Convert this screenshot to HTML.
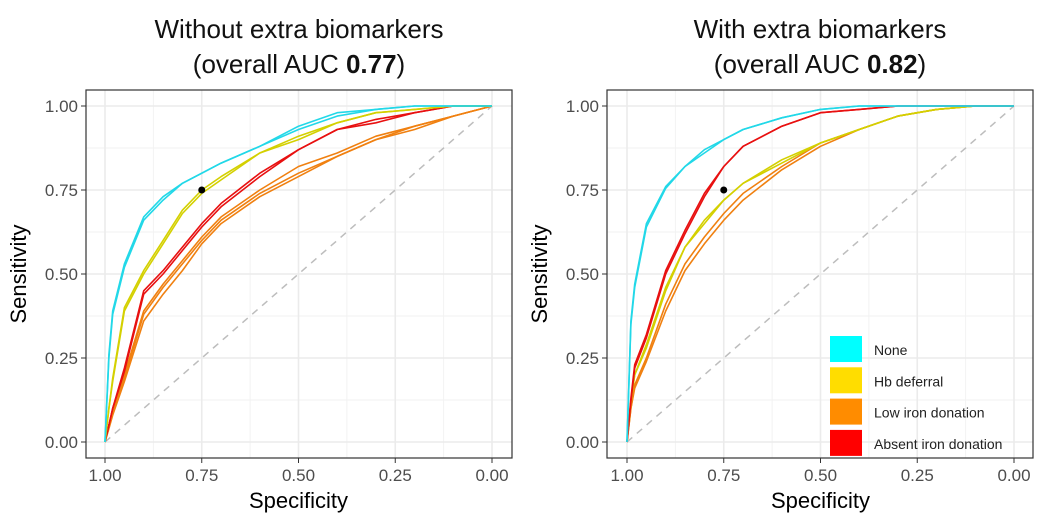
<!DOCTYPE html>
<html><head><meta charset="utf-8"><style>
body{margin:0;background:#fff;}
svg{display:block;font-family:"Liberation Sans",sans-serif;}
</style></head><body>
<svg id="chart" width="1046" height="525"></svg>
<script>
const fprGrid=[0,0.01,0.02,0.05,0.1,0.15,0.2,0.25,0.3,0.4,0.5,0.6,0.7,0.8,0.9,1];
const tickLabels=["1.00","0.75","0.50","0.25","0.00"];
const tickValues=[1,0.75,0.5,0.25,0];
const categories=["None","Hb deferral","Low iron donation","Absent iron donation"];
const colors=["#22d8e8","#d4d000","#f08010","#e81010"];
// left panel (without extra biomarkers)
const leftNone1=[0,0.25,0.38,0.52,0.66,0.72,0.77,0.8,0.83,0.88,0.94,0.98,0.99,1,1,1];
const leftNone2=[0,0.26,0.39,0.53,0.67,0.73,0.77,0.8,0.83,0.88,0.93,0.97,0.99,1,1,1];
const leftHb1=[0,0.1,0.18,0.39,0.5,0.59,0.68,0.74,0.78,0.86,0.91,0.95,0.98,0.99,1,1];
const leftHb2=[0,0.1,0.19,0.4,0.51,0.6,0.69,0.75,0.79,0.86,0.9,0.95,0.98,0.99,1,1];
const leftLow1=[0,0.05,0.09,0.2,0.39,0.47,0.54,0.61,0.67,0.75,0.82,0.86,0.91,0.94,0.97,1];
const leftLow2=[0,0.04,0.08,0.18,0.36,0.44,0.51,0.59,0.65,0.73,0.79,0.85,0.9,0.93,0.97,1];
const leftLow3=[0,0.05,0.09,0.19,0.38,0.46,0.53,0.6,0.66,0.74,0.8,0.85,0.9,0.94,0.97,1];
const leftAbs1=[0,0.05,0.1,0.21,0.44,0.5,0.57,0.64,0.7,0.79,0.87,0.93,0.95,0.98,1,1];
const leftAbs2=[0,0.05,0.1,0.22,0.45,0.51,0.58,0.65,0.71,0.8,0.87,0.93,0.96,0.98,1,1];
// right panel (with extra biomarkers)
const rightNone1=[0,0.35,0.46,0.64,0.755,0.82,0.86,0.9,0.93,0.965,0.99,1,1,1,1,1];
const rightNone2=[0,0.36,0.47,0.65,0.76,0.82,0.87,0.9,0.93,0.965,0.99,1,1,1,1,1];
const rightHb1=[0,0.12,0.2,0.28,0.45,0.58,0.65,0.72,0.77,0.83,0.89,0.93,0.97,0.99,1,1];
const rightHb2=[0,0.12,0.2,0.29,0.46,0.58,0.66,0.72,0.77,0.84,0.89,0.93,0.97,0.99,1,1];
const rightLow1=[0,0.1,0.17,0.25,0.41,0.53,0.61,0.68,0.74,0.82,0.89,0.93,0.97,0.99,1,1];
const rightLow2=[0,0.1,0.16,0.24,0.39,0.51,0.59,0.66,0.72,0.81,0.88,0.93,0.97,0.99,1,1];
const rightAbs1=[0,0.12,0.22,0.31,0.5,0.62,0.73,0.82,0.88,0.94,0.98,0.99,1,1,1,1];
const rightAbs2=[0,0.13,0.23,0.32,0.51,0.63,0.74,0.82,0.88,0.94,0.98,0.99,1,1,1,1];
const cutoffSpec=[0.75];
const cutoffSens=[0.75];

const NS="http://www.w3.org/2000/svg";
const svg=document.getElementById('chart');
function mk(tag,attrs,parent){const e=document.createElementNS(NS,tag);for(const k in attrs)e.setAttribute(k,attrs[k]);(parent||svg).appendChild(e);return e;}

const panels=[
 {x0:86,x1:512,xa:105,xb:492,t1:"Without extra biomarkers",auc:"0.77",
  series:[[leftLow1,2],[leftLow2,2],[leftLow3,2],[leftAbs1,3],[leftAbs2,3],[leftHb1,1],[leftHb2,1],[leftNone1,0],[leftNone2,0]]},
 {x0:607,x1:1033,xa:627,xb:1014,t1:"With extra biomarkers",auc:"0.82",
  series:[[rightLow1,2],[rightLow2,2],[rightHb1,1],[rightHb2,1],[rightAbs1,3],[rightAbs2,3],[rightNone1,0],[rightNone2,0]]}
];
const yTop=90,yBot=458,ya=442,yb=106;
panels.forEach((p,pi)=>{
 const g=mk('g',{});
 
 
 const xs=spec=>p.xa+(1-spec)*(p.xb-p.xa);
 const ys=sens=>ya-sens*(ya-yb);
 const cx=(p.x0+p.x1)/2;
 const t=mk('text',{x:cx,y:38,'text-anchor':'middle','font-size':26,fill:'#111'},g);
 t.textContent=p.t1;
 
 
 const t2=mk('text',{x:cx,y:73,'text-anchor':'middle','font-size':26,fill:'#111'},g);
 
 
 t2.innerHTML='(overall AUC <tspan font-weight="bold">'+p.auc+'</tspan>)';
 for(let v=0.125;v<1;v+=0.25){
  mk('line',{x1:xs(v),x2:xs(v),y1:yTop,y2:yBot,stroke:'#f2f2f2','stroke-width':1},g);
  mk('line',{x1:p.x0,x2:p.x1,y1:ys(v),y2:ys(v),stroke:'#f2f2f2','stroke-width':1},g);
 }
 tickValues.forEach((v,i)=>{
  mk('line',{x1:xs(v),x2:xs(v),y1:yTop,y2:yBot,stroke:'#ebebeb','stroke-width':1.6},g);
  mk('line',{x1:p.x0,x2:p.x1,y1:ys(v),y2:ys(v),stroke:'#ebebeb','stroke-width':1.6},g);
  mk('line',{x1:xs(v),x2:xs(v),y1:yBot,y2:yBot+5,stroke:'#333'},g);
  mk('line',{x1:p.x0-5,x2:p.x0,y1:ys(v),y2:ys(v),stroke:'#333'},g);
  const xl=mk('text',{x:xs(v),y:yBot+23,'text-anchor':'middle','font-size':17,fill:'#4d4d4d'},g);
  xl.textContent=tickLabels[i];
  
  
  const yl=mk('text',{x:p.x0-8,y:ys(tickValues[tickValues.length-1-i])+6,'text-anchor':'end','font-size':17,fill:'#4d4d4d'},g);
  yl.textContent=tickLabels[tickLabels.length-1-i];
  
  
 });
 mk('line',{x1:xs(1),y1:ys(0),x2:xs(0),y2:ys(1),stroke:'#bdbdbd','stroke-width':1.5,'stroke-dasharray':'7,6'},g);
 p.series.forEach(([vals,ci])=>{
  const d=vals.map((s,i)=>(i?'L':'M')+xs(1-fprGrid[i]).toFixed(1)+','+ys(s).toFixed(1)).join('');
  const path=mk('path',{d:d,fill:'none',stroke:colors[ci],'stroke-width':1.6,'stroke-linejoin':'round'},g);
  
  
 });
 const dot=mk('circle',{cx:xs(cutoffSpec[0]),cy:ys(cutoffSens[0]),r:3.5,fill:'#000'},g);
 
 
 mk('rect',{x:p.x0,y:yTop,width:p.x1-p.x0,height:yBot-yTop,fill:'none',stroke:'#333','stroke-width':1.2},g);
 const xt=mk('text',{x:(p.xa+p.xb)/2,y:508,'text-anchor':'middle','font-size':22,fill:'#000'},g);
 xt.textContent='Specificity';
 
 
 const yx=p.x0-60,yy=(yTop+yBot)/2;
 const yt=mk('text',{x:yx,y:yy,'text-anchor':'middle','font-size':22,fill:'#000',transform:'rotate(-90 '+yx+' '+yy+')'},g);
 yt.textContent='Sensitivity';
 
 
});
const lg=mk('g',{});


const legendColors=["#00ffff","#ffdd00","#ff8c00","#ff0000"];
categories.forEach((c,i)=>{
 const y=336+i*31.3;
 const r=mk('rect',{x:830,y:y,width:32,height:26,fill:legendColors[i]},lg);
 
 
 const t=mk('text',{x:874,y:y+19,'font-size':14,fill:'#222'},lg);
 t.textContent=c;
 
 
});
</script>
</body></html>
